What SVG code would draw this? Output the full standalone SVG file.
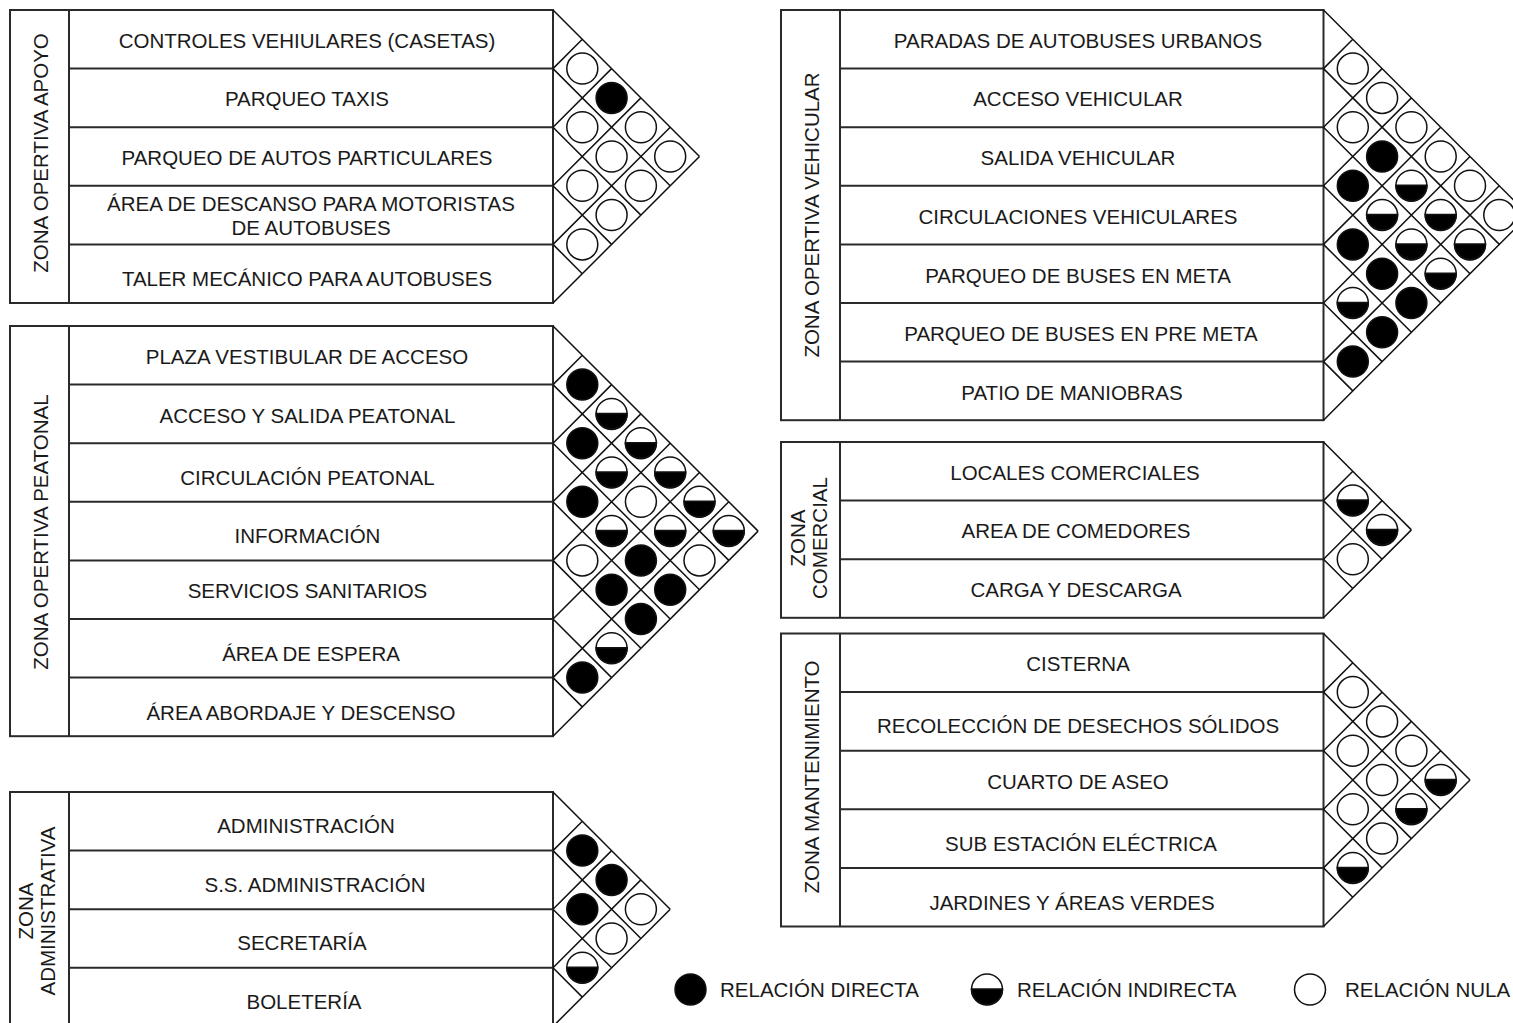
<svg xmlns="http://www.w3.org/2000/svg" width="1513" height="1023" viewBox="0 0 1513 1023">
<style>
.tb{fill:none;stroke:#2a2a2a;stroke-width:2}
.mx{fill:none;stroke:#111;stroke-width:1.5}
.t{font-family:"Liberation Sans",Arial,sans-serif;font-size:20.5px;fill:#1a1a1a;text-anchor:middle}
.lg{font-family:"Liberation Sans",Arial,sans-serif;font-size:20.5px;fill:#1a1a1a}
</style>
<defs>
<g id="N"><circle r="15.5" fill="#fff" stroke="#111" stroke-width="1.5"/></g>
<g id="D"><circle r="15.5" fill="#000" stroke="#111" stroke-width="1.5"/></g>
<g id="I"><circle r="15.5" fill="#fff" stroke="#111" stroke-width="1.5"/><path d="M-15.5,-0.5 H15.5 A15.5,15.5 0 0 1 -15.5,-0.5 Z" fill="#000" stroke="#111" stroke-width="1.5"/></g>
</defs>
<rect width="1513" height="1023" fill="#fff"/>

<g id="zona-apoyo">
<rect class="tb" x="10" y="10" width="543" height="293"/>
<path class="tb" d="M69,10V303M69,68.6H553M69,127.2H553M69,185.8H553M69,244.4H553"/>
<text class="t" transform="translate(48,153) rotate(-90)">ZONA OPERTIVA APOYO</text>
<text class="t" x="307" y="48.3">CONTROLES VEHIULARES (CASETAS)</text>
<text class="t" x="307" y="106.3">PARQUEO TAXIS</text>
<text class="t" x="307" y="165.3">PARQUEO DE AUTOS PARTICULARES</text>
<text class="t" x="311" y="210.7">ÁREA DE DESCANSO PARA MOTORISTAS</text>
<text class="t" x="311" y="235">DE AUTOBUSES</text>
<text class="t" x="307" y="286.3">TALER MECÁNICO PARA AUTOBUSES</text>
<path class="mx" d="M553,10 l146.5,146.5 M553,68.6 l117.2,117.2 M553,68.6 l29.3,-29.3 M553,127.2 l87.9,87.9 M553,127.2 l58.6,-58.6 M553,185.8 l58.6,58.6 M553,185.8 l87.9,-87.9 M553,244.4 l29.3,29.3 M553,244.4 l117.2,-117.2 M553,303 l146.5,-146.5"/>
<use href="#N" x="582.3" y="68.6"/>
<use href="#D" x="611.6" y="97.9"/>
<use href="#N" x="582.3" y="127.2"/>
<use href="#N" x="640.9" y="127.2"/>
<use href="#N" x="611.6" y="156.5"/>
<use href="#N" x="670.2" y="156.5"/>
<use href="#N" x="582.3" y="185.8"/>
<use href="#N" x="640.9" y="185.8"/>
<use href="#N" x="611.6" y="215.1"/>
<use href="#N" x="582.3" y="244.4"/>
</g>

<g id="zona-peatonal">
<rect class="tb" x="10" y="326" width="543" height="410.2"/>
<path class="tb" d="M69,326V736.2M69,384.6H553M69,443.2H553M69,501.8H553M69,560.4H553M69,619H553M69,677.6H553"/>
<text class="t" transform="translate(48,532) rotate(-90)">ZONA OPERTIVA PEATONAL</text>
<text class="t" x="307" y="364.3">PLAZA VESTIBULAR DE ACCESO</text>
<text class="t" x="307.5" y="423.3">ACCESO Y SALIDA PEATONAL</text>
<text class="t" x="307.5" y="485.3">CIRCULACIÓN PEATONAL</text>
<text class="t" x="307.5" y="543.3">INFORMACIÓN</text>
<text class="t" x="307.5" y="598.3">SERVICIOS SANITARIOS</text>
<text class="t" x="311" y="661.3">ÁREA DE ESPERA</text>
<text class="t" x="301" y="720.3">ÁREA ABORDAJE Y DESCENSO</text>
<path class="mx" d="M553,326 l205.1,205.1 M553,384.6 l175.8,175.8 M553,384.6 l29.3,-29.3 M553,443.2 l146.5,146.5 M553,443.2 l58.6,-58.6 M553,501.8 l117.2,117.2 M553,501.8 l87.9,-87.9 M553,560.4 l87.9,87.9 M553,560.4 l117.2,-117.2 M553,619 l58.6,58.6 M553,619 l146.5,-146.5 M553,677.6 l29.3,29.3 M553,677.6 l175.8,-175.8 M553,736.2 l205.1,-205.1"/>
<use href="#D" x="582.3" y="384.6"/>
<use href="#I" x="611.6" y="413.9"/>
<use href="#D" x="582.3" y="443.2"/>
<use href="#I" x="640.9" y="443.2"/>
<use href="#I" x="611.6" y="472.5"/>
<use href="#I" x="670.2" y="472.5"/>
<use href="#D" x="582.3" y="501.8"/>
<use href="#N" x="640.9" y="501.8"/>
<use href="#I" x="699.5" y="501.8"/>
<use href="#I" x="611.6" y="531.1"/>
<use href="#I" x="670.2" y="531.1"/>
<use href="#I" x="728.8" y="531.1"/>
<use href="#N" x="582.3" y="560.4"/>
<use href="#D" x="640.9" y="560.4"/>
<use href="#N" x="699.5" y="560.4"/>
<use href="#D" x="611.6" y="589.7"/>
<use href="#D" x="670.2" y="589.7"/>
<use href="#D" x="640.9" y="619"/>
<use href="#I" x="611.6" y="648.3"/>
<use href="#D" x="582.3" y="677.6"/>
</g>

<g id="zona-administrativa">
<rect class="tb" x="10" y="792" width="543" height="234.4"/>
<path class="tb" d="M69,792V1026.4M69,850.6H553M69,909.2H553M69,967.8H553"/>
<text class="t" transform="translate(33,911) rotate(-90)">ZONA</text>
<text class="t" transform="translate(55,911) rotate(-90)">ADMINISTRATIVA</text>
<text class="t" x="306" y="833.3">ADMINISTRACIÓN</text>
<text class="t" x="315" y="892.3">S.S. ADMINISTRACIÓN</text>
<text class="t" x="302" y="950.3">SECRETARÍA</text>
<text class="t" x="304" y="1009.3">BOLETERÍA</text>
<path class="mx" d="M553,792 l117.2,117.2 M553,850.6 l87.9,87.9 M553,850.6 l29.3,-29.3 M553,909.2 l58.6,58.6 M553,909.2 l58.6,-58.6 M553,967.8 l29.3,29.3 M553,967.8 l87.9,-87.9 M553,1026.4 l117.2,-117.2"/>
<use href="#D" x="582.3" y="850.6"/>
<use href="#D" x="611.6" y="879.9"/>
<use href="#D" x="582.3" y="909.2"/>
<use href="#N" x="640.9" y="909.2"/>
<use href="#N" x="611.6" y="938.5"/>
<use href="#I" x="582.3" y="967.8"/>
</g>

<g id="zona-vehicular">
<rect class="tb" x="781" y="10" width="542.5" height="410.2"/>
<path class="tb" d="M840,10V420.2M840,68.6H1323.5M840,127.2H1323.5M840,185.8H1323.5M840,244.4H1323.5M840,303H1323.5M840,361.6H1323.5"/>
<text class="t" transform="translate(819,215) rotate(-90)">ZONA OPERTIVA VEHICULAR</text>
<text class="t" x="1078" y="48.3">PARADAS DE AUTOBUSES URBANOS</text>
<text class="t" x="1078" y="106.3">ACCESO VEHICULAR</text>
<text class="t" x="1078" y="165.3">SALIDA VEHICULAR</text>
<text class="t" x="1078" y="224.3">CIRCULACIONES VEHICULARES</text>
<text class="t" x="1078" y="283.3">PARQUEO DE BUSES EN META</text>
<text class="t" x="1081" y="341.3">PARQUEO DE BUSES EN PRE META</text>
<text class="t" x="1072" y="400.3">PATIO DE MANIOBRAS</text>
<path class="mx" d="M1323.5,10 l205.1,205.1 M1323.5,68.6 l175.8,175.8 M1323.5,68.6 l29.3,-29.3 M1323.5,127.2 l146.5,146.5 M1323.5,127.2 l58.6,-58.6 M1323.5,185.8 l117.2,117.2 M1323.5,185.8 l87.9,-87.9 M1323.5,244.4 l87.9,87.9 M1323.5,244.4 l117.2,-117.2 M1323.5,303 l58.6,58.6 M1323.5,303 l146.5,-146.5 M1323.5,361.6 l29.3,29.3 M1323.5,361.6 l175.8,-175.8 M1323.5,420.2 l205.1,-205.1"/>
<use href="#N" x="1352.8" y="68.6"/>
<use href="#N" x="1382.1" y="97.9"/>
<use href="#N" x="1352.8" y="127.2"/>
<use href="#N" x="1411.4" y="127.2"/>
<use href="#D" x="1382.1" y="156.5"/>
<use href="#N" x="1440.7" y="156.5"/>
<use href="#D" x="1352.8" y="185.8"/>
<use href="#I" x="1411.4" y="185.8"/>
<use href="#N" x="1470" y="185.8"/>
<use href="#I" x="1382.1" y="215.1"/>
<use href="#I" x="1440.7" y="215.1"/>
<use href="#N" x="1499.3" y="215.1"/>
<use href="#D" x="1352.8" y="244.4"/>
<use href="#I" x="1411.4" y="244.4"/>
<use href="#I" x="1470" y="244.4"/>
<use href="#D" x="1382.1" y="273.7"/>
<use href="#I" x="1440.7" y="273.7"/>
<use href="#I" x="1352.8" y="303"/>
<use href="#D" x="1411.4" y="303"/>
<use href="#D" x="1382.1" y="332.3"/>
<use href="#D" x="1352.8" y="361.6"/>
</g>

<g id="zona-comercial">
<rect class="tb" x="781" y="442" width="542.5" height="175.8"/>
<path class="tb" d="M840,442V617.8M840,500.6H1323.5M840,559.2H1323.5"/>
<text class="t" transform="translate(804.5,538) rotate(-90)">ZONA</text>
<text class="t" transform="translate(827,538) rotate(-90)">COMERCIAL</text>
<text class="t" x="1075" y="480.3">LOCALES COMERCIALES</text>
<text class="t" x="1076" y="538.3">AREA DE COMEDORES</text>
<text class="t" x="1076" y="597.3">CARGA Y DESCARGA</text>
<path class="mx" d="M1323.5,442 l87.9,87.9 M1323.5,500.6 l58.6,58.6 M1323.5,500.6 l29.3,-29.3 M1323.5,559.2 l29.3,29.3 M1323.5,559.2 l58.6,-58.6 M1323.5,617.8 l87.9,-87.9"/>
<use href="#I" x="1352.8" y="500.6"/>
<use href="#I" x="1382.1" y="529.9"/>
<use href="#N" x="1352.8" y="559.2"/>
</g>

<g id="zona-mantenimiento">
<rect class="tb" x="781" y="633.5" width="542.5" height="293"/>
<path class="tb" d="M840,633.5V926.5M840,692.1H1323.5M840,750.7H1323.5M840,809.3H1323.5M840,867.9H1323.5"/>
<text class="t" transform="translate(819,777) rotate(-90)">ZONA MANTENIMIENTO</text>
<text class="t" x="1078" y="671.3">CISTERNA</text>
<text class="t" x="1078" y="733.3">RECOLECCIÓN DE DESECHOS SÓLIDOS</text>
<text class="t" x="1078" y="789.3">CUARTO DE ASEO</text>
<text class="t" x="1081" y="851.3">SUB ESTACIÓN ELÉCTRICA</text>
<text class="t" x="1072" y="910.3">JARDINES Y ÁREAS VERDES</text>
<path class="mx" d="M1323.5,633.5 l146.5,146.5 M1323.5,692.1 l117.2,117.2 M1323.5,692.1 l29.3,-29.3 M1323.5,750.7 l87.9,87.9 M1323.5,750.7 l58.6,-58.6 M1323.5,809.3 l58.6,58.6 M1323.5,809.3 l87.9,-87.9 M1323.5,867.9 l29.3,29.3 M1323.5,867.9 l117.2,-117.2 M1323.5,926.5 l146.5,-146.5"/>
<use href="#N" x="1352.8" y="692.1"/>
<use href="#N" x="1382.1" y="721.4"/>
<use href="#N" x="1352.8" y="750.7"/>
<use href="#N" x="1411.4" y="750.7"/>
<use href="#N" x="1382.1" y="780"/>
<use href="#I" x="1440.7" y="780"/>
<use href="#N" x="1352.8" y="809.3"/>
<use href="#I" x="1411.4" y="809.3"/>
<use href="#N" x="1382.1" y="838.6"/>
<use href="#I" x="1352.8" y="867.9"/>
</g>

<g id="connectors"></g>

<g id="leyenda">
<use href="#D" x="690.5" y="989.5"/>
<text class="lg" x="720" y="997">RELACIÓN DIRECTA</text>
<use href="#I" x="987" y="989.5"/>
<text class="lg" x="1017" y="997">RELACIÓN INDIRECTA</text>
<use href="#N" x="1310" y="989.5"/>
<text class="lg" x="1345" y="997">RELACIÓN NULA</text>
</g>
</svg>
